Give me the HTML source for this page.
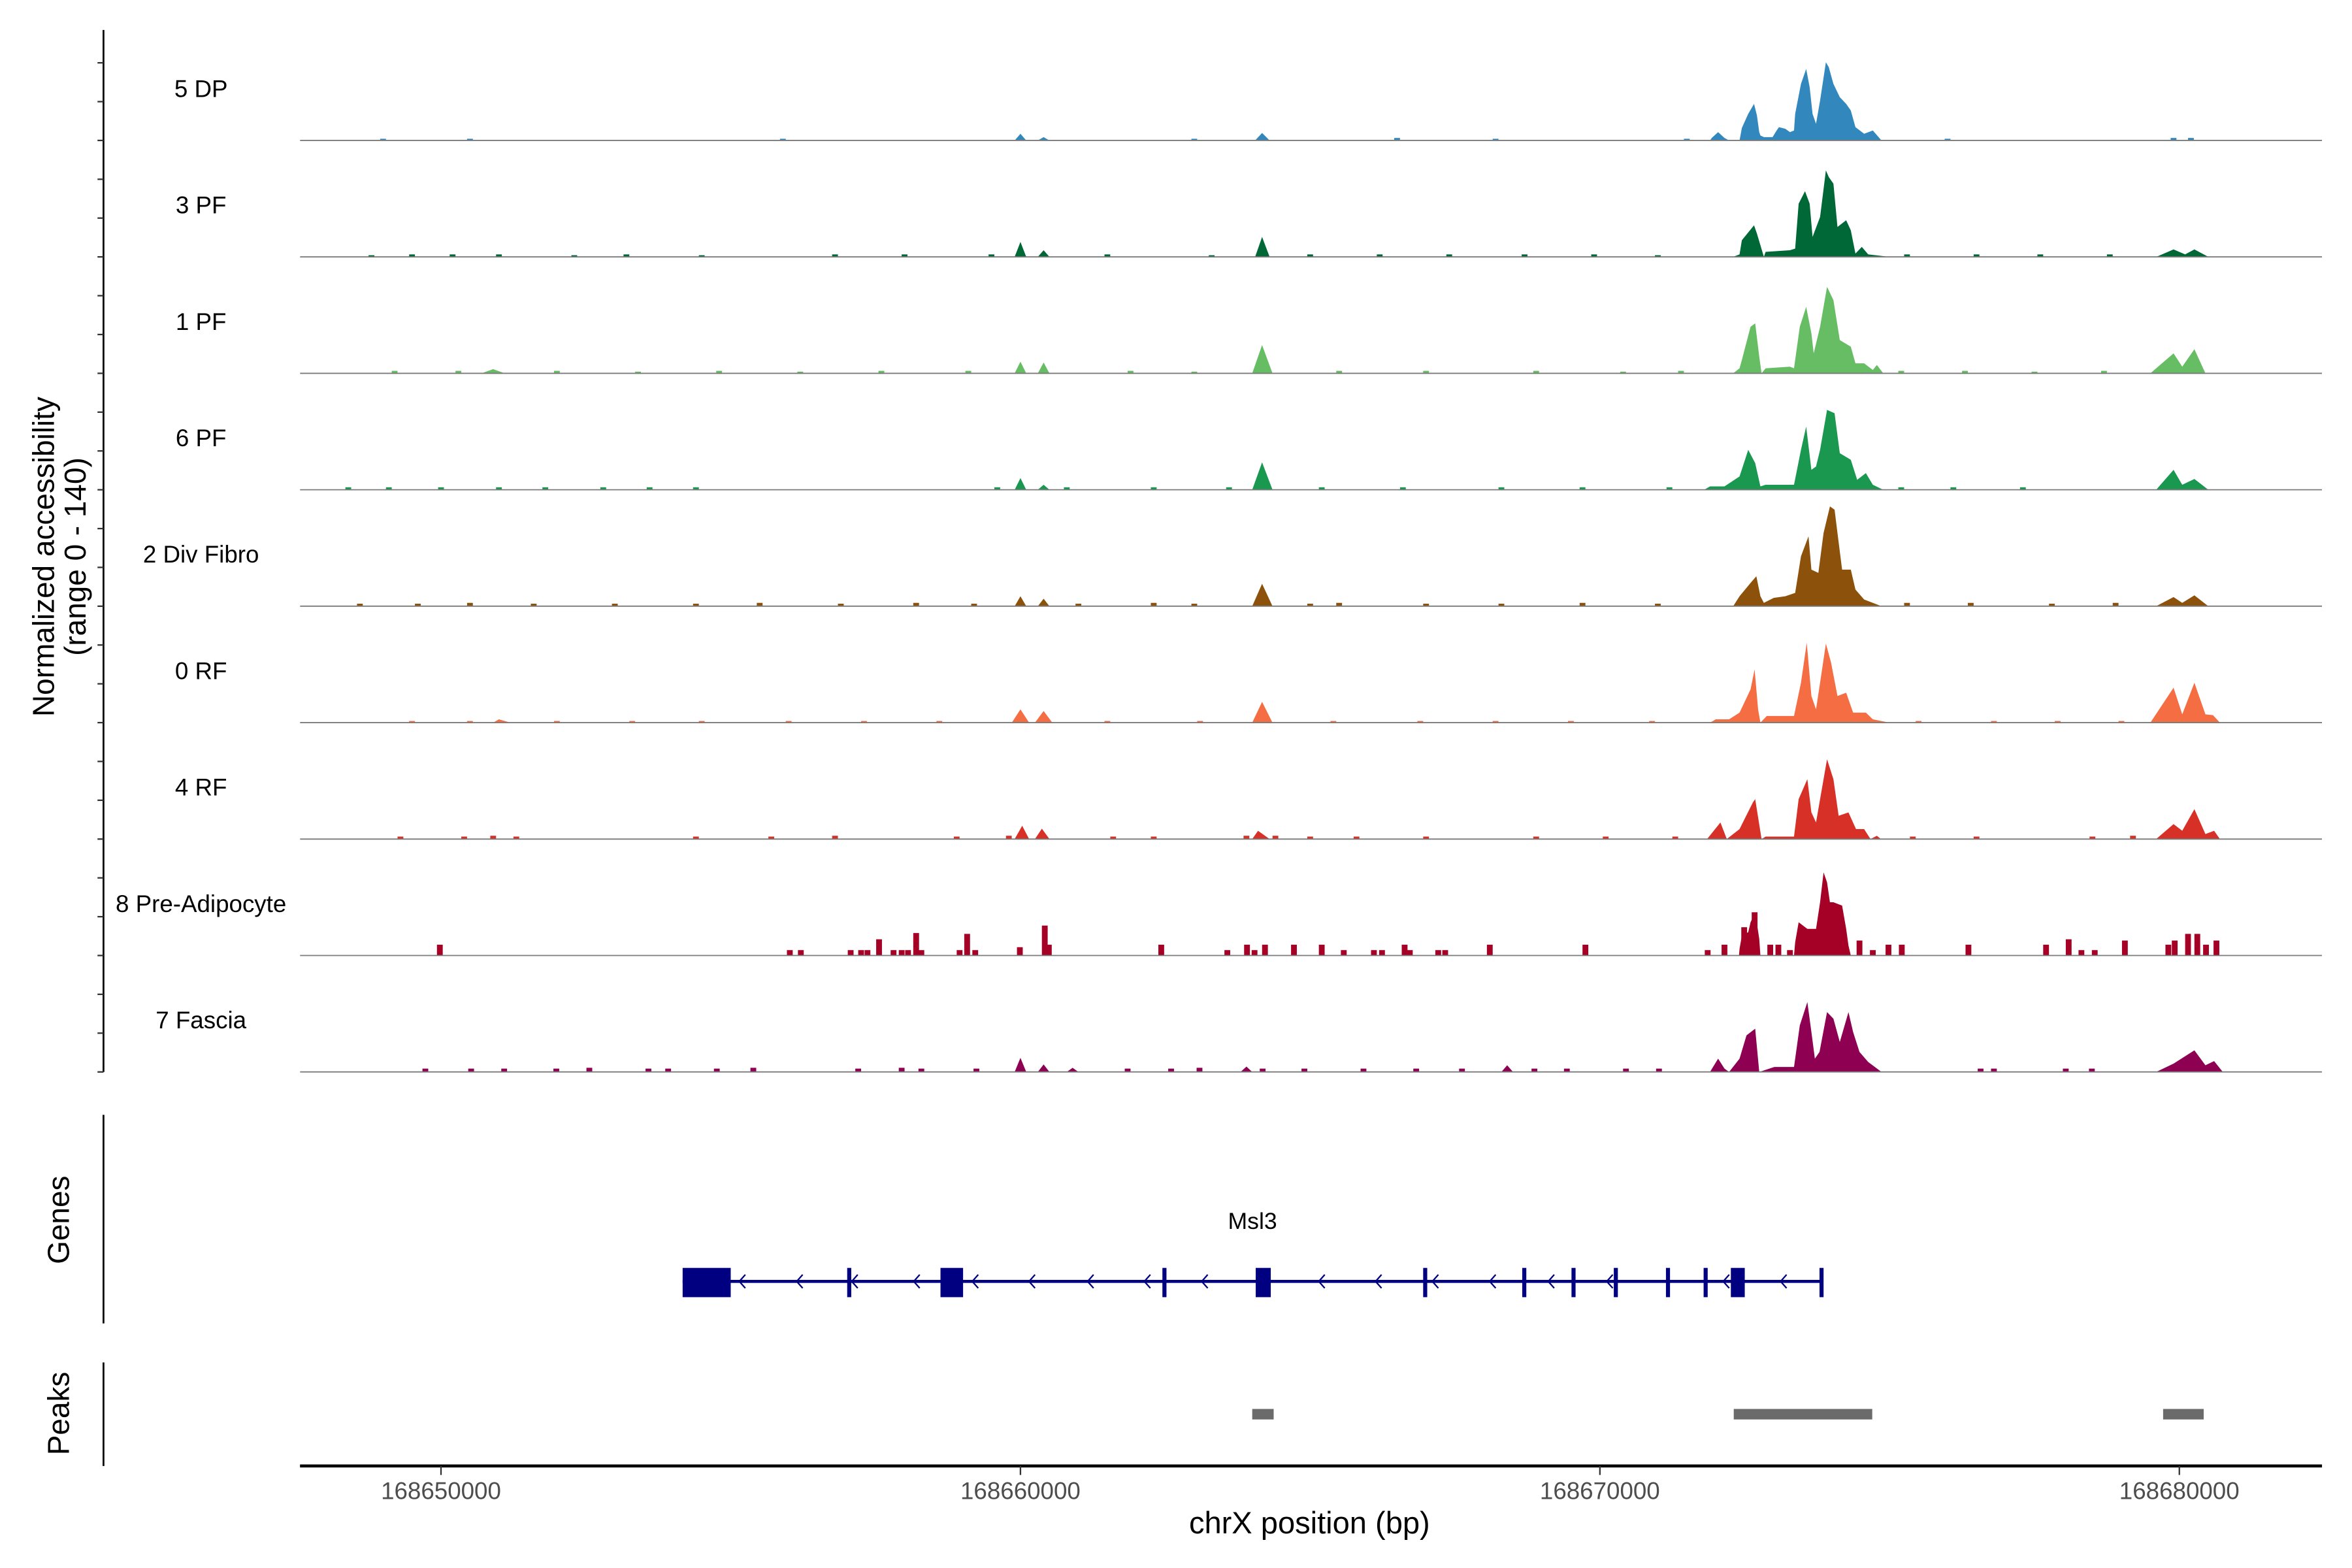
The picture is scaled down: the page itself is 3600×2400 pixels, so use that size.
<!DOCTYPE html>
<html><head><meta charset="utf-8"><style>
html,body{margin:0;padding:0;background:#fff;}
svg{display:block;font-family:"Liberation Sans",Arial,sans-serif;}
</style></head><body>
<svg id="chart" xmlns="http://www.w3.org/2000/svg" width="3600" height="2400" viewBox="0 0 1568 1045" preserveAspectRatio="none">
<defs><clipPath id="plotclip"><rect x="200" y="0" width="1348" height="1045"/></clipPath></defs>
<g id="tracks" clip-path="url(#plotclip)"></g>
<g id="labels"></g>
<g id="axes"></g>
<g id="genes"></g>
<g id="peaks"></g>
</svg>
<script>
const trackNames = ["5 DP","3 PF","1 PF","6 PF","2 Div Fibro","0 RF","4 RF","8 Pre-Adipocyte","7 Fascia"];
const trackColors = ["#3288bd","#006837","#66bd63","#1a9850","#8c510a","#f46d43","#d73027","#a50026","#8e0152"];

// profiles: positions in kb from 168650000, values in normalized accessibility (0-140)
const pos_dp5 = [9.9,10.0,10.1,10.3,10.4,10.5,14.05,14.17,14.3,21.9,21.93,22.04,22.15,22.23,22.41,22.45,22.56,22.66,22.71,22.75,22.77,22.83,22.98,23.05,23.09,23.20,23.28,23.35,23.37,23.47,23.56,23.62,23.67,23.73,23.80,23.90,23.95,24.03,24.14,24.25,24.33,24.41,24.56,24.71,24.86];
const val_dp5 = [0,8,0,0,4,0,0,9,0,0,3,10,3,0,0,15,32,44,30,10,6,4,4,12,16,14,10,12,32,68,86,64,32,20,48,94,88,68,52,44,36,16,8,12,0];
const pos_pf3 = [9.9,10.0,10.1,10.3,10.4,10.5,14.05,14.17,14.3,22.30,22.41,22.45,22.66,22.71,22.83,22.86,23.28,23.37,23.43,23.54,23.62,23.67,23.80,23.90,23.95,24.03,24.10,24.25,24.33,24.41,24.52,24.63,25.0,29.6,29.9,30.1,30.26,30.5];
const val_pf3 = [0,18,0,0,8,0,0,24,0,0,3,20,38,28,0,6,8,10,64,79,64,24,48,104,96,88,36,44,32,4,12,3,0,0,9,3,9,0];
const pos_pf1 = [0.7,0.9,1.1,9.9,10.0,10.1,10.3,10.4,10.5,14.0,14.17,14.35,22.3,22.41,22.45,22.60,22.68,22.75,22.79,22.86,23.28,23.35,23.45,23.56,23.65,23.69,23.80,23.92,24.03,24.14,24.33,24.41,24.56,24.71,24.78,24.89,29.5,29.9,30.05,30.26,30.45];
const val_pf1 = [0,5,0,0,14,0,0,13,0,0,34,0,0,6,16,56,60,20,0,6,8,6,56,80,48,24,56,104,88,40,32,12,12,4,10,0,0,24,8,29,0];
const pos_pf6 = [9.9,10.0,10.1,10.3,10.4,10.5,14.0,14.17,14.35,21.8,21.9,22.15,22.41,22.56,22.68,22.77,22.86,23.35,23.47,23.56,23.65,23.73,23.80,23.92,24.05,24.14,24.33,24.44,24.59,24.71,24.89,29.6,29.9,30.05,30.26,30.5];
const val_pf6 = [0,14,0,0,6,0,0,33,0,0,4,4,16,48,32,4,6,6,48,76,24,28,48,96,92,44,36,12,20,6,0,0,24,6,13,0];
const pos_div2 = [9.9,10.0,10.1,10.3,10.4,10.5,14.0,14.17,14.35,22.3,22.41,22.60,22.70,22.77,22.83,23.0,23.20,23.37,23.47,23.60,23.65,23.77,23.86,23.97,24.05,24.10,24.18,24.33,24.41,24.56,24.71,24.86,29.6,29.9,30.05,30.26,30.5];
const val_div2 = [0,12,0,0,9,0,0,27,0,0,12,28,36,12,4,10,12,16,60,84,44,40,88,120,116,88,44,44,20,8,4,0,0,11,4,13,0];
const pos_rf0 = [0.9,1.0,1.2,9.85,10.0,10.15,10.25,10.4,10.55,14.0,14.17,14.35,21.9,22.0,22.23,22.41,22.60,22.67,22.73,22.77,22.88,23.01,23.20,23.35,23.47,23.57,23.65,23.73,23.80,23.90,23.99,24.10,24.25,24.37,24.59,24.71,25.0,29.5,29.9,30.05,30.26,30.45,30.58,30.7];
const val_rf0 = [0,4,0,0,16,0,0,14,0,0,25,0,0,4,4,12,40,64,16,0,8,8,8,8,48,96,32,16,48,95,72,32,36,12,12,4,0,0,42,10,48,10,9,0];
const pos_rf4 = [9.9,10.03,10.15,10.25,10.37,10.5,14.0,14.1,14.3,21.85,22.08,22.19,22.41,22.64,22.68,22.79,22.86,23.35,23.43,23.58,23.65,23.73,23.80,23.92,24.03,24.12,24.29,24.42,24.56,24.67,24.78,24.85,29.6,29.9,30.05,30.26,30.45,30.6,30.7];
const val_rf4 = [0,16,0,0,12.5,0,0,10,0,0,20,0,12,44,48,0,3,3,48,72,32,20,48,96,72,28,32,12,12,0,4,0,0,18,10,36,6,10,0];
const pos_pa8 = [22.40,22.41,22.45,22.56,22.60,22.68,22.75,22.77,23.35,23.37,23.43,23.58,23.73,23.80,23.86,23.92,23.97,24.03,24.18,24.25,24.29,24.33];
const val_pa8 = [0,8,24,28,40,52,20,0,0,16,40,32,32,64,100,88,64,64,60,32,12,0];
const pos_fa7 = [9.9,10.0,10.1,10.3,10.4,10.5,10.8,10.9,11.0,13.8,13.9,14.0,18.3,18.4,18.5,21.9,22.04,22.15,22.23,22.41,22.53,22.68,22.75,23.01,23.35,23.45,23.58,23.65,23.71,23.79,23.92,24.03,24.14,24.29,24.37,24.48,24.63,24.86,29.6,29.9,30.26,30.45,30.6,30.75];
const val_fa7 = [0,17,0,0,9,0,0,5,0,0,6.5,0,0,8,0,0,16,4,0,16,44,52,0,6,6,56,84,48,16,24,72,64,36,72,48,24,12,0,0,10,26,8,13,0];

// small bar-like signals (kb, value)
const bars_dp5_pos = [-1.0,0.5,5.9,13.0,16.5,18.2,21.5,26.0,29.9,30.2];
const bars_dp5_val = [2,2,2,2,3,2,2,2,3,3];
const bars_pf3_pos = [-1.2,-0.5,0.2,1.0,2.3,3.2,4.5,6.8,8.0,9.5,11.5,13.3,15.0,16.2,17.4,18.7,19.9,21.0,25.3,26.5,27.6,28.8];
const bars_pf3_val = [2,3,3,3,2,3,2,3,3,3,3,2,3,3,3,3,3,2,3,3,3,3];
const bars_pf1_pos = [-0.8,0.3,2.0,3.4,4.8,6.2,7.6,9.1,11.9,13.0,15.5,17.0,18.9,20.4,21.4,25.2,26.3,27.5,28.7];
const bars_pf1_val = [3,3,3,2,3,2,3,3,3,2,3,3,3,2,3,3,3,2,3];
const bars_pf6_pos = [-1.6,-0.9,0.0,1.0,1.8,2.8,3.6,4.4,9.6,10.8,12.3,13.6,15.2,16.6,18.3,19.7,21.2,25.2,26.1,27.3];
const bars_pf6_val = [3,3,3,3,3,3,3,3,3,3,3,3,3,3,3,3,3,3,3,3];
const bars_div2_pos = [-1.4,-0.4,0.5,1.6,3.0,4.4,5.5,6.9,8.2,9.2,11.0,12.3,13.0,15.0,15.5,17.0,18.3,19.7,21.0,25.3,26.4,27.8,28.9];
const bars_div2_val = [3,3,4,3,3,3,4,3,4,3,3,4,3,3,4,3,3,4,3,4,4,3,4];
const bars_rf0_pos = [-0.5,0.5,2.0,3.3,4.5,6.0,7.3,8.6,11.5,13.1,15.4,16.9,18.2,19.5,20.9,25.5,26.8,27.9,29.0];
const bars_rf0_val = [2,2,2,2,2,2,2,2,2,2,2,2,2,2,2,2,2,2,2];
const bars_rf4_pos = [-0.7,0.4,0.9,1.3,4.4,5.7,6.8,8.9,9.8,11.6,12.3,13.9,14.4,15.0,15.8,17.0,18.9,20.1,21.3,25.4,26.5,28.5,29.2];
const bars_rf4_val = [3,3,4,3,3,3,4,3,4,3,3,4,4,3,3,3,3,3,3,3,3,3,4];
const bars_pa8_pos = [-0.02,6.02,6.21,7.07,7.25,7.36,7.56,7.81,7.95,8.06,8.20,8.29,8.95,9.08,9.22,9.99,10.42,10.49,12.43,13.57,13.91,14.04,14.22,14.72,15.20,15.58,16.10,16.24,16.63,16.72,17.21,17.33,18.10,19.75,21.86,22.15,22.49,22.67,22.94,23.08,23.28,24.48,24.71,24.98,25.21,26.36,27.70,28.09,28.31,28.54,29.06,29.81,29.92,30.15,30.31,30.46,30.64];
const bars_pa8_val = [13,6.5,6.5,6.5,6.5,6.5,19.5,6.5,6.5,6.5,27,6.5,6.5,26,6.5,10,36,13,13,6.5,13,6.5,13,13,13,6.5,6.5,6.5,13,6.5,6.5,6.5,13,13,6.5,13,34,52,13,13,6.5,18,6.5,13,13,13,13,19.5,6.5,6.5,18,13,18,26,26,13,18];
const bars_fa7_pos = [-0.27,0.52,1.09,1.99,2.56,3.58,3.92,4.76,5.39,7.2,7.95,8.29,9.24,11.85,12.6,13.09,14.18,14.9,15.92,16.83,17.62,18.87,19.43,20.45,21.02,26.57,26.8,28.04,28.49];
const bars_fa7_val = [4,4,4,4,5,4,4,4,5,4,5,4,4,4,4,5,4,4,4,4,4,4,4,4,4,4,4,4,4];

const profPos = [pos_dp5,pos_pf3,pos_pf1,pos_pf6,pos_div2,pos_rf0,pos_rf4,pos_pa8,pos_fa7];
const profVal = [val_dp5,val_pf3,val_pf1,val_pf6,val_div2,val_rf0,val_rf4,val_pa8,val_fa7];
const barPos = [bars_dp5_pos,bars_pf3_pos,bars_pf1_pos,bars_pf6_pos,bars_div2_pos,bars_rf0_pos,bars_rf4_pos,bars_pa8_pos,bars_fa7_pos];
const barVal = [bars_dp5_val,bars_pf3_val,bars_pf1_val,bars_pf6_val,bars_div2_val,bars_rf0_val,bars_rf4_val,bars_pa8_val,bars_fa7_val];

const xTicks = [168650000,168660000,168670000,168680000];
const xTickLabels = ["168650000","168660000","168670000","168680000"];

// gene model (kb)
const geneStart = 4.17, geneEnd = 23.82;
const exonStarts = [4.17,8.62,14.06,22.26,7.01,12.45,16.95,18.66,19.51,20.24,21.14,21.79,23.79];
const exonEnds   = [5.00,9.01,14.32,22.50,7.08,12.52,17.02,18.73,19.58,20.31,21.21,21.86,23.86];
const chevrons = [5.20,6.19,7.14,8.21,9.22,10.20,11.21,12.19,13.18,15.20,16.18,17.16,18.15,19.16,20.17,22.18,23.17];
const peakStarts = [14.00,22.31,29.72];
const peakEnds = [14.37,24.70,30.42];

const NS = "http://www.w3.org/2000/svg";
const X0 = 294, PXKB = 38.63;
function xs(kb){ return X0 + kb*PXKB; }
function xbp(bp){ return X0 + (bp-168650000)/1000*PXKB; }
const TRACK_H = 77.6, FIRST_BASE = 93.6, MAXV = 140;
function base(i){ return FIRST_BASE + i*TRACK_H; }
function ys(i,v){ return base(i) - v*(TRACK_H/MAXV); }
function mk(tag, attrs, parent){ const e=document.createElementNS(NS,tag); for(const k in attrs) e.setAttribute(k,attrs[k]); parent.appendChild(e); return e; }

const gT = document.getElementById('tracks');
const gL = document.getElementById('labels');
for(let i=0;i<trackNames.length;i++){
  const b = base(i);
  const tg = mk('g',{},gT);
  
  
  const P = profPos[i], V = profVal[i];
  let d = 'M'+xs(P[0]).toFixed(2)+','+b;
  for(let j=0;j<P.length;j++) d += 'L'+xs(P[j]).toFixed(2)+','+ys(i,V[j]).toFixed(2);
  d += 'L'+xs(P[P.length-1]).toFixed(2)+','+b+'Z';
  const pth = mk('path',{d:d,fill:trackColors[i]},tg);
  
  
  const BP = barPos[i], BV = barVal[i];
  const w = 0.1;
  for(let j=0;j<BP.length;j++){
    const r = mk('rect',{x:xs(BP[j]-w/2).toFixed(2),y:ys(i,BV[j]).toFixed(2),width:(w*PXKB).toFixed(2),height:(b-ys(i,BV[j])).toFixed(2),fill:trackColors[i]},tg);
    
    
  }
  const bl = mk('line',{x1:200,x2:1548,y1:b,y2:b,stroke:'#7a7a7a','stroke-width':0.8},tg);
  
  
  const t = mk('text',{x:134,y:b-29,'text-anchor':'middle','font-size':16,fill:'#000'},gL);
  t.textContent = trackNames[i];
  
  
}

const gA = document.getElementById('axes');
const yl = mk('line',{x1:69,x2:69,y1:20,y2:base(8),stroke:'#000','stroke-width':1.2},gA);


for(let i=0;i<trackNames.length;i++){
  for(let k=0;k<3;k++){
    const ty = base(i) - k*TRACK_H/3;
    const tk = mk('line',{x1:65,x2:69,y1:ty,y2:ty,stroke:'#333','stroke-width':1},gA);
    
    
  }
}
const yt = mk('text',{transform:'translate(36,371) rotate(-90)','text-anchor':'middle','font-size':20,fill:'#000'},gA);
yt.textContent = 'Normalized accessibility';


const yt2 = mk('text',{transform:'translate(57,371) rotate(-90)','text-anchor':'middle','font-size':20,fill:'#000'},gA);
yt2.textContent = '(range 0 - 140)';



const gl = mk('line',{x1:69,x2:69,y1:743,y2:882,stroke:'#000','stroke-width':1.2},gA);


const gtt = mk('text',{transform:'translate(46,813) rotate(-90)','text-anchor':'middle','font-size':20,fill:'#000'},gA);
gtt.textContent = 'Genes';


const pl = mk('line',{x1:69,x2:69,y1:908,y2:977,stroke:'#000','stroke-width':1.2},gA);


const ptt = mk('text',{transform:'translate(46,942) rotate(-90)','text-anchor':'middle','font-size':20,fill:'#000'},gA);
ptt.textContent = 'Peaks';



const xl = mk('line',{x1:200,x2:1548,y1:977,y2:977,stroke:'#000','stroke-width':2},gA);


for(let i=0;i<xTicks.length;i++){
  const tx = xbp(xTicks[i]);
  const tk = mk('line',{x1:tx,x2:tx,y1:977,y2:983,stroke:'#333','stroke-width':1},gA);
  
  
  const lb = mk('text',{x:tx,y:999,'text-anchor':'middle','font-size':16,fill:'#4d4d4d'},gA);
  lb.textContent = xTickLabels[i];
  
  
}
const xt = mk('text',{x:873,y:1022,'text-anchor':'middle','font-size':20.5,fill:'#000'},gA);
xt.textContent = 'chrX position (bp)';



const gG = document.getElementById('genes');
const GY = 854, NAVY = '#000080';
const gline = mk('line',{x1:xs(geneStart),x2:xs(geneEnd),y1:GY,y2:GY,stroke:NAVY,'stroke-width':2},gG);


for(let i=0;i<exonStarts.length;i++){
  const ex = mk('rect',{x:xs(exonStarts[i]),y:845,width:xs(exonEnds[i])-xs(exonStarts[i]),height:19.5,fill:NAVY},gG);
  
  
}
for(let i=0;i<chevrons.length;i++){
  const cx = xs(chevrons[i]);
  const ch = mk('path',{d:'M'+(cx+2)+','+(GY-4.5)+'L'+(cx-2)+','+GY+'L'+(cx+2)+','+(GY+4.5),fill:'none',stroke:NAVY,'stroke-width':1},gG);
  
  
}
const gn = mk('text',{x:835,y:819,'text-anchor':'middle','font-size':15.5,fill:'#000'},gG);
gn.textContent = 'Msl3';



const gP = document.getElementById('peaks');
for(let i=0;i<peakStarts.length;i++){
  const pr = mk('rect',{x:xs(peakStarts[i]),y:939,width:xs(peakEnds[i])-xs(peakStarts[i]),height:7,fill:'#6b6b6b'},gP);
  
  
}
</script>
</body></html>
